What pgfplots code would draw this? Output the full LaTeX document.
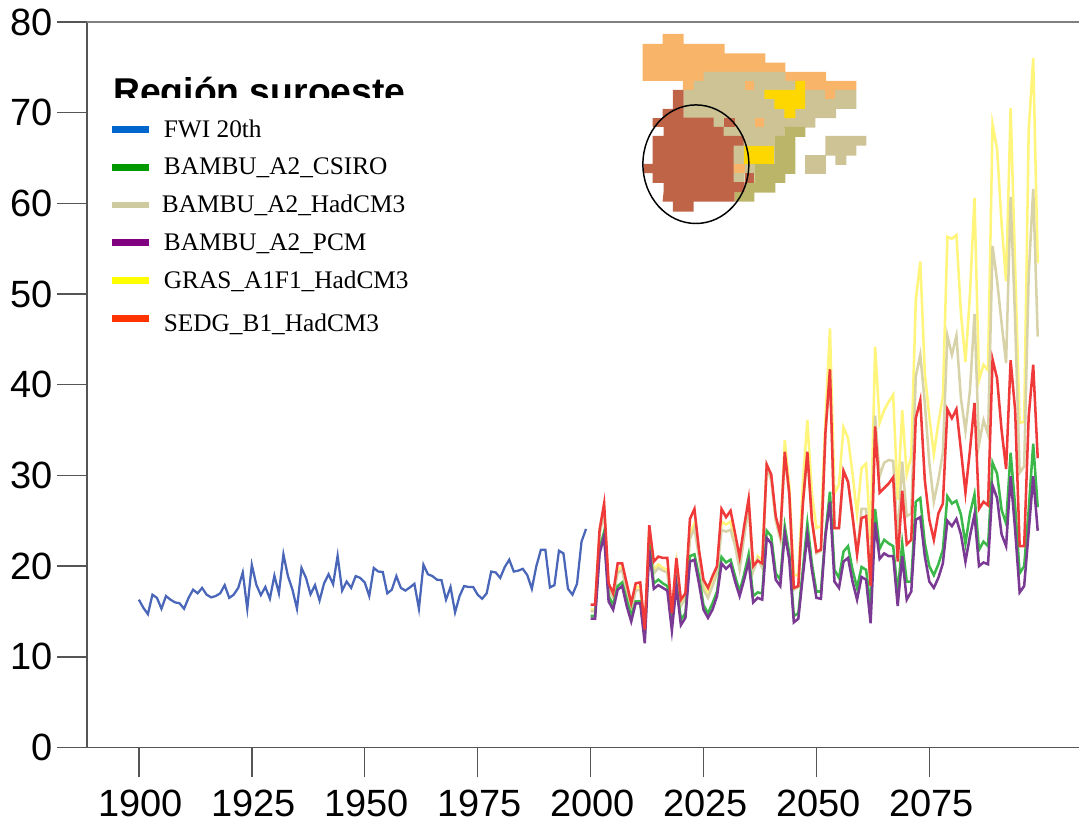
\documentclass[border=0pt]{standalone}
\usepackage{pgfplots}
\usepackage{pgfplotstable}
\usepackage{fontspec}
\setmainfont{Liberation Sans}
\newfontfamily\legserif{Liberation Serif}
\pgfplotsset{compat=1.18}
\definecolor{cblue}{HTML}{4A66B8}
\definecolor{cgreen}{HTML}{3CB84A}
\definecolor{cbeige}{HTML}{D8D2A8}
\definecolor{cpurple}{HTML}{7A3A94}
\definecolor{cyellow}{HTML}{FFF57A}
\definecolor{cred}{HTML}{F03A3A}
\definecolor{lblue}{HTML}{0066CC}
\definecolor{lgreen}{HTML}{009900}
\definecolor{lbeige}{HTML}{CFCBA0}
\definecolor{lpurple}{HTML}{800080}
\definecolor{lyellow}{HTML}{FFFF00}
\definecolor{lred}{HTML}{FF3300}
\definecolor{mapor}{HTML}{F8B468}
\definecolor{mapbe}{HTML}{CEC395}
\definecolor{mapol}{HTML}{BBB56A}
\definecolor{mapye}{HTML}{FFD700}
\definecolor{mapbr}{HTML}{BF6447}
\definecolor{axgr}{HTML}{555555}
\pgfplotstableread{
year fwi
1900 16.3
1901 15.4
1902 14.7
1903 16.85
1904 16.5
1905 15.3
1906 16.7
1907 16.3
1908 16.0
1909 15.9
1910 15.3
1911 16.5
1912 17.4
1913 17.0
1914 17.6
1915 16.85
1916 16.55
1917 16.7
1918 17.0
1919 17.9
1920 16.5
1921 16.85
1922 17.6
1923 19.3
1924 15.3
1925 20.15
1926 17.95
1927 16.8
1928 17.7
1929 16.4
1930 18.95
1931 17.0
1932 21.3
1933 18.9
1934 17.4
1935 15.3
1936 19.8
1937 18.7
1938 16.9
1939 17.9
1940 16.2
1941 18.1
1942 19.1
1943 18.0
1944 21.15
1945 17.3
1946 18.3
1947 17.6
1948 18.9
1949 18.7
1950 18.2
1951 16.7
1952 19.8
1953 19.4
1954 19.35
1955 17.0
1956 17.4
1957 18.9
1958 17.6
1959 17.3
1960 17.65
1961 18.05
1962 15.3
1963 20.15
1964 19.1
1965 18.9
1966 18.5
1967 18.45
1968 16.3
1969 17.7
1970 14.9
1971 16.7
1972 17.8
1973 17.7
1974 17.7
1975 16.85
1976 16.4
1977 17.0
1978 19.4
1979 19.3
1980 18.7
1981 19.9
1982 20.7
1983 19.4
1984 19.5
1985 19.7
1986 19.0
1987 17.5
1988 20.0
1989 21.8
1990 21.8
1991 17.65
1992 17.9
1993 21.7
1994 21.4
1995 17.5
1996 16.85
1997 18.05
1998 22.7
1999 24.1
}\fwitable
\pgfplotstableread{
year green beige purple yellow red
2000 14.5 15.0 14.2 15.2 15.75
2001 14.5 15.0 14.2 15.2 15.75
2002 21.9 23.5 21.4 24.0 24.0
2003 23.8 26.0 23.3 26.5 26.9
2004 16.7 17.4 16.1 17.6 18.1
2005 15.7 16.5 15.2 16.7 17.0
2006 17.8 19.2 17.4 19.6 20.3
2007 18.2 19.6 17.8 20.0 20.3
2008 16.3 17.0 15.6 17.2 18.1
2009 14.5 15.0 13.9 15.2 15.9
2010 16.1 17.3 15.9 17.6 18.1
2011 16.1 17.4 15.9 17.8 18.2
2012 12.4 12.6 11.5 12.8 13.0
2013 22.5 23.6 21.8 24.0 24.5
2014 18.1 19.2 17.5 19.6 20.5
2015 18.5 19.8 17.9 20.2 21.05
2016 18.1 19.5 17.6 19.8 20.9
2017 17.8 19.3 17.3 19.6 20.9
2018 14.1 14.5 12.9 14.8 14.8
2019 18.1 20.0 17.8 20.3 20.9
2020 14.1 15.6 13.5 15.9 16.3
2021 14.8 16.4 14.3 16.7 17.0
2022 21.1 23.0 20.5 23.6 25.2
2023 21.3 24.2 20.7 24.7 26.3
2024 18.9 21.0 18.1 21.4 21.8
2025 15.7 17.4 15.2 17.8 18.5
2026 14.8 16.5 14.3 16.9 17.6
2027 15.9 17.8 15.2 18.1 18.9
2028 17.2 19.2 16.7 19.6 20.0
2029 21.0 24.0 20.3 24.9 26.3
2030 20.4 23.8 19.7 24.6 25.4
2031 20.7 24.0 20.2 24.9 26.1
2032 18.9 22.2 18.3 22.7 23.6
2033 17.2 19.6 16.7 20.2 21.0
2034 19.1 23.2 18.5 23.6 24.4
2035 21.3 26.5 20.5 26.9 27.4
2036 16.7 19.4 16.0 19.8 20.0
2037 17.1 20.8 16.5 21.1 20.6
2038 17.0 19.8 16.3 20.7 20.3
2039 23.9 30.8 23.1 31.0 31.2
2040 23.3 29.5 22.5 29.7 30.1
2041 19.2 25.0 18.5 25.1 25.5
2042 18.5 23.0 17.8 23.1 23.5
2043 24.4 32.2 23.6 33.9 32.6
2044 21.4 27.8 20.7 28.8 28.0
2045 14.5 17.4 13.8 19.1 17.6
2046 14.8 17.7 14.2 18.9 17.8
2047 19.6 26.7 18.9 29.1 26.9
2048 24.7 32.4 23.5 36.1 32.6
2049 20.3 25.0 19.6 28.0 25.1
2050 17.2 21.4 16.5 24.2 21.6
2051 17.2 21.7 16.4 24.4 21.8
2052 23.6 34.5 23.3 36.0 34.7
2053 28.2 41.5 27.1 46.2 41.7
2054 19.6 24.2 18.3 28.0 24.2
2055 18.7 24.2 17.6 29.0 24.2
2056 21.6 30.5 20.5 35.3 30.5
2057 22.2 29.3 20.9 34.1 29.3
2058 19.6 25.5 18.3 30.2 25.5
2059 17.6 21.4 16.3 25.7 21.3
2060 19.9 26.3 18.8 30.8 25.3
2061 19.6 26.3 18.5 31.3 25.5
2062 15.5 17.8 13.7 22.9 17.8
2063 26.3 36.6 24.8 44.2 35.4
2064 21.9 29.9 20.8 35.8 28.1
2065 22.9 31.4 21.4 37.2 28.6
2066 22.5 31.7 21.1 38.1 29.1
2067 22.2 31.6 21.1 38.9 29.8
2068 17.0 22.9 15.6 27.3 20.5
2069 22.5 31.5 21.1 37.2 28.3
2070 18.3 25.5 16.3 30.1 22.4
2071 18.3 25.8 17.2 32.1 22.9
2072 27.1 40.9 25.1 49.3 36.3
2073 27.5 43.3 25.4 53.6 38.3
2074 22.5 38.0 21.1 41.3 29.5
2075 20.0 31.4 18.3 36.5 25.1
2076 19.0 27.1 17.6 32.3 22.9
2077 20.2 29.5 18.7 35.8 25.8
2078 21.8 32.5 20.3 38.7 26.9
2079 27.7 45.4 25.0 56.3 37.3
2080 26.9 43.3 24.4 56.1 36.3
2081 27.2 45.4 25.2 56.5 37.3
2082 25.7 38.5 23.5 47.9 32.8
2083 22.5 34.9 20.5 42.5 28.1
2084 25.8 39.4 23.3 50.0 32.8
2085 27.9 47.8 25.7 60.6 38.0
2086 21.8 33.4 20.0 40.5 26.3
2087 22.7 36.1 20.4 42.2 27.1
2088 22.2 34.5 20.2 41.6 26.7
2089 31.4 55.3 28.9 68.7 42.8
2090 30.2 51.5 27.5 66.0 40.7
2091 26.2 46.8 23.5 57.8 35.0
2092 24.7 42.4 22.2 51.4 30.7
2093 32.5 60.7 29.9 70.5 42.7
2094 26.6 47.0 24.0 53.0 37.2
2095 19.2 30.3 17.1 35.8 22.2
2096 20.0 31.0 17.8 35.9 22.2
2097 26.2 52.0 23.8 68.0 36.5
2098 33.5 61.6 29.9 76.0 42.2
2099 26.5 45.3 23.9 53.4 31.9
}\futtable
\begin{document}
\begin{tikzpicture}
\begin{scope}[x=0.75pt,y=-0.75pt,yshift=617.25pt]
\path[use as bounding box] (0,0) rectangle (1080,823);
\end{scope}
\begin{axis}[
  at={(65.25pt,56.25pt)}, anchor=south west,
  scale only axis, width=744.75pt, height=544.5pt,
  xmin=1888.5, xmax=2108.2, ymin=0, ymax=80,
  axis lines*=left,
  axis line style={axgr,line width=1.1pt,-},
  xtick={1900,1925,1950,1975,2000,2025,2050,2075},
  ytick={0,10,20,30,40,50,60,70,80},
  tick align=outside,
  major tick length=22.5pt,
  tick style={axgr,line width=1.1pt},
  /pgf/number format/1000 sep={},
  /pgf/number format/assume math mode=true,
  tick label style={font=\fontsize{28.5}{28.5}\selectfont,text=black},
  xticklabel style={inner ysep=0pt,yshift=-9pt,xshift=1.5pt},
  legend cell align=left,
  legend style={at={(0.0212,0.8695)},anchor=north west,draw=none,fill=none,
    font=\legserif\fontsize{19}{19}\selectfont,row sep=10pt,inner sep=0pt},
  legend image code/.code={\draw[#1] (0pt,0pt) -- (27.75pt,0pt);},
  after end axis/.code={\draw[gray,line width=1.1pt] (rel axis cs:0,1) -- (rel axis cs:1,1);},
]
\addplot[cblue,line width=1.7pt,forget plot] table[x=year,y=fwi]{\fwitable};
\addplot[cyellow,line width=1.9pt,forget plot] table[x=year,y=yellow]{\futtable};
\addplot[cbeige,line width=1.9pt,forget plot] table[x=year,y=beige]{\futtable};
\addplot[cgreen,line width=1.9pt,forget plot] table[x=year,y=green]{\futtable};
\addplot[cpurple,line width=1.9pt,forget plot] table[x=year,y=purple]{\futtable};
\addplot[cred,line width=1.9pt,forget plot] table[x=year,y=red]{\futtable};
\addlegendimage{lblue,line width=5.25pt}\addlegendentry{\hspace*{6.75pt}FWI 20th}
\addlegendimage{lgreen,line width=5.25pt}\addlegendentry{\hspace*{6.75pt}BAMBU\_A2\_CSIRO}
\addlegendimage{lbeige,line width=5.25pt}\addlegendentry{\hspace*{5.25pt}BAMBU\_A2\_HadCM3}
\addlegendimage{lpurple,line width=5.25pt}\addlegendentry{\hspace*{6.75pt}BAMBU\_A2\_PCM}
\addlegendimage{lyellow,line width=5.25pt}\addlegendentry{\hspace*{6.75pt}GRAS\_A1F1\_HadCM3}
\addlegendimage{lred,line width=5.25pt}\addlegendentry{\hspace*{6.75pt}\raisebox{-3.75pt}[\height][0pt]{SEDG\_B1\_HadCM3}}
\end{axis}
% title, cut off at its lower edge as in the reference
\begin{scope}[x=0.75pt,y=-0.75pt,yshift=617.25pt]
\node[anchor=base west,inner sep=0pt,font=\bfseries\fontsize{28}{28}\selectfont] at (113,104.7) {Región suroeste};
\fill[white] (105,98.5) rectangle (420,116);
\end{scope}
% inset map, in coordinates of a 3x crop at (630,25)
\begin{scope}[x=0.25pt,y=-0.25pt,xshift=472.5pt,yshift=598.5pt]
\fill[mapor] (99,27)--(162,27)--(162,57)--(285,57)--(285,85)--(408,85)--(408,113)--(468,113)--(468,141)--(590,141)--(590,168)--(681,168)--(681,195)--(192,195)--(160,195)--(160,168)--(39,168)--(39,57)--(99,57)--cycle;
\fill[mapbe] (222,141)--(468,141)--(468,168)--(498,168)--(498,195)--(681,195)--(681,252)--(620,252)--(620,280)--(558,280)--(558,308)--(465,308)--(465,333)--(435,333)--(435,417)--(375,417)--(375,445)--(345,445)--(345,472)--(312,472)--(200,472)--(162,278)--(162,195)--(192,195)--(192,168)--(222,168)--cycle;
\fill[mapbe] (588,333)--(711,333)--(711,362)--(681,362)--(681,392)--(651,392)--(651,420)--(618,420)--(618,392)--(588,392)--cycle;
\fill[mapbe] (528,390) rectangle (590,447);
\fill[mapol] (465,306)--(528,306)--(528,336)--(498,336)--(498,447)--(468,447)--(468,474)--(438,474)--(438,503)--(375,503)--(375,530)--(315,530)--(315,502)--(345,502)--(345,474)--(375,474)--(375,417)--(435,417)--(435,333)--(465,333)--cycle;
\fill[mapye] (405,195)--(498,195)--(498,168)--(527,168)--(527,252)--(498,252)--(498,280)--(465,280)--(465,252)--(435,252)--(435,222)--(405,222)--cycle;
\fill[mapye] (342,362) rectangle (435,417);
\fill[mapor] (345,168) rectangle (375,195);
\fill[mapor] (378,280) rectangle (405,306);
\fill[mapor] (588,195) rectangle (618,222);
\fill[mapor] (312,417) rectangle (345,445);
\fill[mapbr] (130,195)--(162,195)--(162,278)--(252,278)--(252,306)--(282,306)--(282,333)--(342,333)--(342,362)--(312,362)--(312,472)--(345,472)--(345,502)--(315,502)--(315,530)--(192,530)--(192,560)--(130,560)--(130,530)--(99,530)--(102,502)--(102,474)--(69,474)--(69,445)--(42,445)--(42,417)--(69,417)--(69,333)--(102,333)--(102,306)--(69,306)--(69,280)--(99,280)--(99,252)--(130,252)--cycle;
\fill[mapbr] (282,280) rectangle (315,306);
\fill[mapbr] (345,445) rectangle (375,474);
\draw[black,line width=1.1pt] (199,418) ellipse [x radius=159, y radius=178];
\end{scope}
\end{tikzpicture}
\end{document}
